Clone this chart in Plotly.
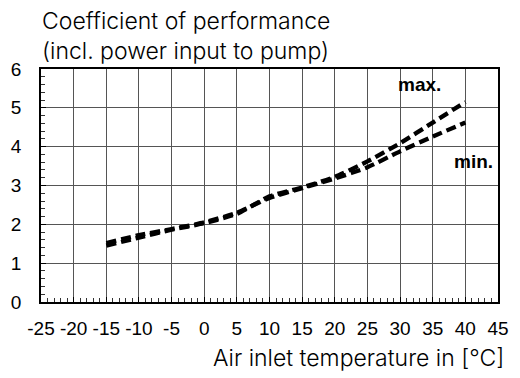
import plotly.graph_objects as go

# Air inlet temperature [°C]
temp = [-15, -10, -5, 0, 5, 10, 15, 20, 25, 30, 35, 40]
# Coefficient of performance, upper and lower bound
cop_max = [1.45, 1.66, 1.86, 2.03, 2.27, 2.72, 2.95, 3.22, 3.62, 4.09, 4.62, 5.15]
cop_min = [1.52, 1.72, 1.88, 2.05, 2.30, 2.68, 2.93, 3.18, 3.47, 3.88, 4.26, 4.62]

x_ticks = list(range(-25, 50, 5))
y_ticks = list(range(0, 7))

font_text = "Inter, Roboto, sans-serif"
font_num = "Liberation Sans, Arial, sans-serif"

fig = go.Figure()
for ys in (cop_max, cop_min):
    fig.add_trace(go.Scatter(
        x=temp, y=ys, mode="lines",
        line=dict(color="black", width=4.3, dash="10px,5px", shape="spline", smoothing=0.6),
        showlegend=False, hoverinfo="skip",
    ))

fig.add_annotation(x=32.9, y=5.6, text="<b>max.</b>", showarrow=False,
                   font=dict(family=font_num, size=19, color="black"))
fig.add_annotation(x=44.5, y=3.63, text="<b>min.</b>", showarrow=False,
                   xanchor="right", font=dict(family=font_num, size=19, color="black"))

fig.add_annotation(x=0, xref="paper", xanchor="left", xshift=-1,
                   y=1, yref="paper", yanchor="bottom", yshift=2,
                   text="Coefficient of performance<br>(incl. power input to pump)",
                   showarrow=False, align="left",
                   font=dict(family=font_text, size=23, weight=300, color="black"))
fig.add_annotation(x=1, xref="paper", xanchor="right", xshift=8,
                   y=0, yref="paper", yanchor="top", yshift=-40,
                   text="Air inlet temperature in [°C]", showarrow=False,
                   font=dict(family=font_text, size=23, weight=300, color="black"))

fig.update_xaxes(
    range=[-25, 45], tickvals=x_ticks, ticktext=[str(v) for v in x_ticks],
    showgrid=True, gridcolor="#555555", gridwidth=1.3,
    showline=True, linecolor="black", linewidth=1.5, mirror=True,
    ticks="inside", ticklen=5, tickcolor="black", ticklabelstandoff=8,
    minor=dict(dtick=1, ticks="inside", ticklen=4, tickcolor="#333333", showgrid=False),
    tickfont=dict(family=font_num, size=19, color="black"), zeroline=False,
)
fig.update_yaxes(
    range=[0, 6], tickvals=y_ticks,
    showgrid=True, gridcolor="#555555", gridwidth=1.3,
    showline=True, linecolor="black", linewidth=1.5, mirror=True,
    ticks="inside", ticklen=5, tickcolor="black", ticklabelstandoff=14,
    minor=dict(dtick=0.2, ticks="inside", ticklen=4, tickcolor="#333333", showgrid=False),
    tickfont=dict(family=font_num, size=19, color="black"), zeroline=False,
)

fig.update_layout(
    width=520, height=378,
    margin=dict(l=39, r=11, t=69, b=76),
    paper_bgcolor="white", plot_bgcolor="white",
)

fig.write_html("out.html")
